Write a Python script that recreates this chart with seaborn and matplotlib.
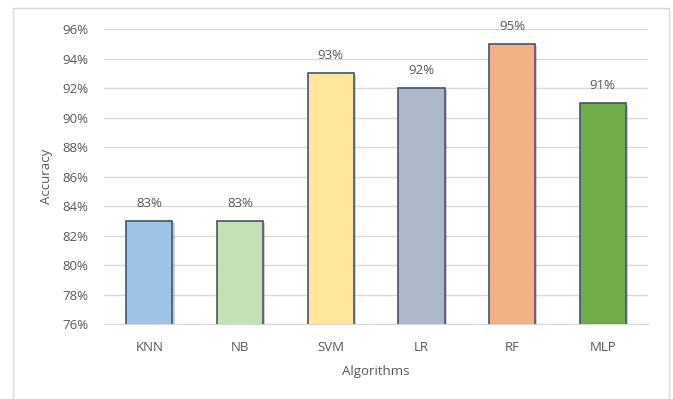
import pandas as pd
import seaborn as sns
import matplotlib.pyplot as plt
from matplotlib.patches import Rectangle
from matplotlib.ticker import PercentFormatter
import matplotlib.patheffects as pe

# chart values
algorithms = ['KNN', 'NB', 'SVM', 'LR', 'RF', 'MLP']
accuracy = [0.83, 0.83, 0.93, 0.92, 0.95, 0.91]
bar_colors = ['#9DC3E6', '#C5E0B4', '#FFE699', '#ADB9CA', '#F4B183', '#70AD47']

df = pd.DataFrame({'Algorithms': algorithms, 'Accuracy': accuracy})

sns.set_style('white')
plt.rcParams['font.family'] = ['Open Sans', 'DejaVu Sans']
text_col = '#595959'

fig = plt.figure(figsize=(6.73, 3.99), dpi=100)
ax = fig.add_axes([0.1545, 0.188, 0.8085, 0.739])

sns.barplot(data=df, x='Algorithms', y='Accuracy', hue='Algorithms',
            palette=bar_colors, saturation=1, legend=False, width=0.51,
            edgecolor='#44546A', linewidth=1.2, ax=ax, zorder=3)

for p in ax.patches:
    p.set_path_effects([pe.SimplePatchShadow(offset=(1.5, -1.5), alpha=0.25), pe.Normal()])

ax.set_ylim(0.76, 0.96)
ax.set_yticks([0.76 + 0.02 * i for i in range(11)])
ax.yaxis.set_major_formatter(PercentFormatter(1.0, decimals=0))
ax.grid(axis='y', color='#D9D9D9', linewidth=1, zorder=0)
ax.set_axisbelow(True)
for s in ['top', 'right', 'left']:
    ax.spines[s].set_visible(False)
ax.spines['bottom'].set_color('#D9D9D9')
ax.tick_params(axis='both', length=0, labelsize=9.5, colors=text_col)
ax.tick_params(axis='x', pad=12)
ax.tick_params(axis='y', pad=11)
ax.set_xlim(-0.5, 5.5)

for i, v in enumerate(accuracy):
    ax.text(i, v + 0.0075, f'{v * 100:.0f}%', ha='center', va='bottom',
            fontsize=9.5, color=text_col)

ax.set_xlabel('Algorithms', fontsize=9.5, color=text_col, labelpad=8)
ax.set_ylabel('Accuracy', fontsize=9.5, color=text_col, labelpad=7)

# chart border
fig.patches.append(Rectangle((13 / 673, -0.05), 656 / 673, 1 - 8 / 399 + 0.05,
                             transform=fig.transFigure, fill=False,
                             edgecolor='#D9D9D9', linewidth=1))

fig.savefig('out.png', dpi=100)
